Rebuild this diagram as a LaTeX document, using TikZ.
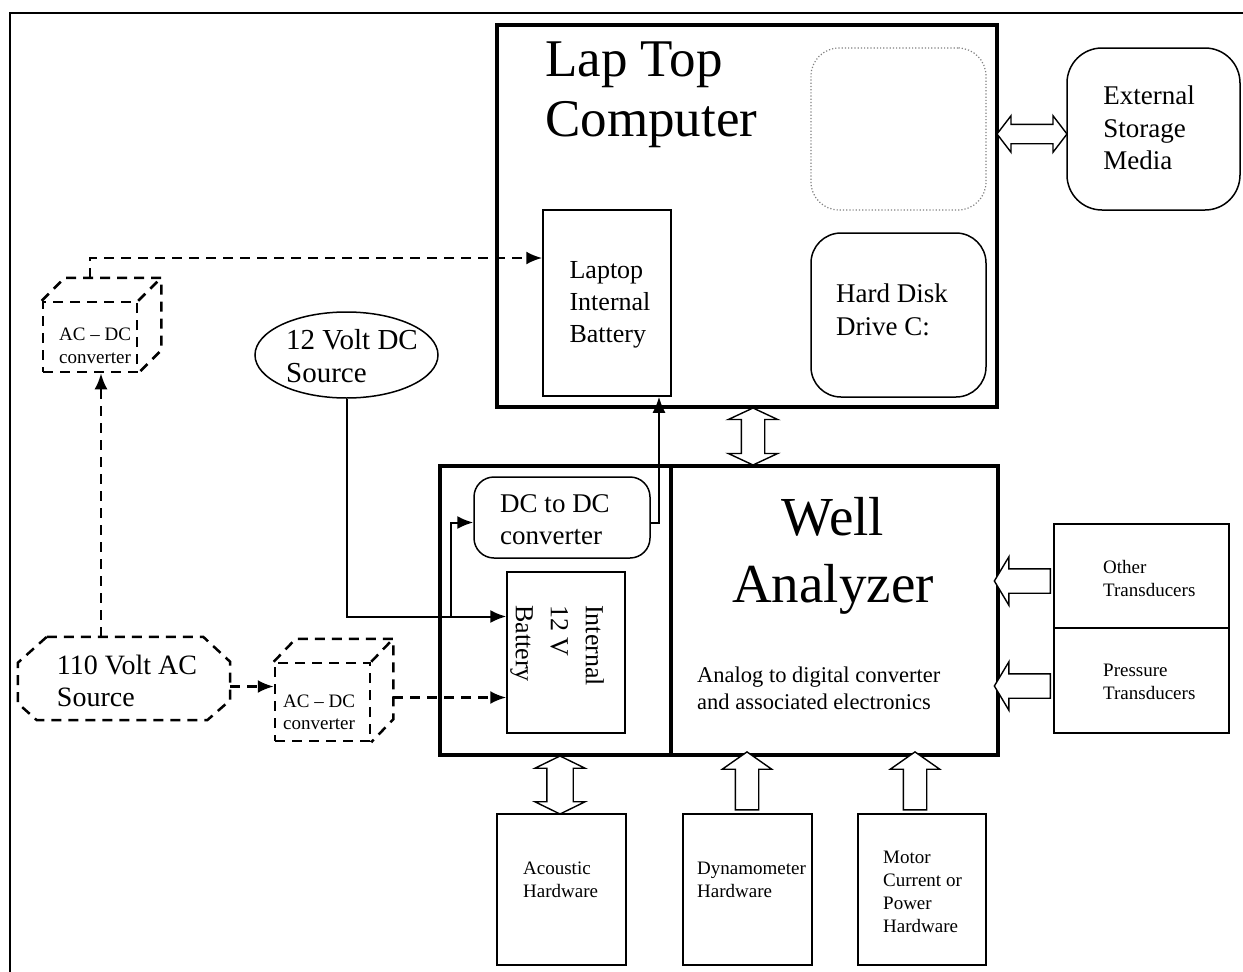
\documentclass[tikz,border=0pt]{standalone}
\usepackage{fontspec}
\setmainfont{Liberation Serif}
\usetikzlibrary{arrows.meta,calc,shapes.geometric,shapes.arrows}

\tikzset{
  bigbox/.style={draw,line width=4pt,inner sep=0pt},
  box/.style={draw,line width=1.5pt,inner sep=0pt},
  rbox/.style={box,rounded corners=#1},
  lbl/.style={inner sep=0pt,align=left},
  dashbox/.style={draw,line width=2.5pt,dash pattern=on 10pt off 7pt,inner sep=0pt},
  dashln/.style={line width=2.5pt,dash pattern=on 10pt off 7pt},
  wire/.style={line width=2pt},
  tip/.style={-{Latex[length=16pt,width=13pt]}},
  hollow/.style={draw,line width=1.4pt,fill=white,inner xsep=0pt},
}

\begin{document}
\begin{tikzpicture}[x=1pt,y=-1pt]
    \useasboundingbox (0,0) rectangle (1243,972);
    \draw[line width=2pt] (10,972) -- (10,13) -- (1243,13);

    % laptop
    \node[bigbox,minimum width=500pt,minimum height=382pt] (LT) at (747,216) {};
    \node[lbl,anchor=west,font=\fontsize{53}{60}\selectfont] (LTt) at (545,95) {Lap Top\\Computer};
    \node[draw,dotted,line width=1.2pt,gray,rounded corners=28pt,minimum width=175pt,minimum height=162pt] (DOT) at (898.5,129) {};
    \node[rbox=30pt,minimum width=175pt,minimum height=164pt] (HD) at (898.5,315) {};
    \node[lbl,font=\fontsize{27}{33}\selectfont] (HDt) at (892,310) {Hard Disk\\Drive C:};
    \node[box,minimum width=128pt,minimum height=186pt] (LB) at (607,303) {};
    \node[lbl,font=\fontsize{26}{32}\selectfont] (LBt) at (610,305) {Laptop\\Internal\\Battery};
    \node[rbox=35pt,minimum width=173pt,minimum height=162pt] (ST) at (1153.5,129) {};
    \node[lbl,font=\fontsize{27}{32.5}\selectfont] (STt) at (1149,128) {External\\Storage\\Media};

    % well analyzer
    \node[bigbox,minimum width=231pt,minimum height=289pt] (BB) at (555.5,610.5) {};
    \node[bigbox,minimum width=327pt,minimum height=289pt] (WA) at (834.5,610.5) {};
    \node[inner sep=0pt,align=center,font=\fontsize{55}{67}\selectfont] (WAt) at (833,556) {Well\\Analyzer};
    \node[lbl,anchor=west,font=\fontsize{22.5}{27}\selectfont] (ADt) at (697,688) {Analog to digital converter\\and associated electronics};
    \node[rbox=20pt,minimum width=176pt,minimum height=81pt] (DC) at (562,517.5) {};
    \node[lbl,font=\fontsize{27}{32}\selectfont] (DCt) at (555,520) {DC to DC\\converter};
    \node[box,minimum width=118pt,minimum height=161pt] (B12) at (566,652.5) {};
    \node[lbl,rotate=-90,anchor=west,font=\fontsize{26}{35}\selectfont] (B12t) at (557,605) {Internal\\12 V\\Battery};

    % transducers and hardware
    \node[box,minimum width=175pt,minimum height=104pt] (OT) at (1141.5,576) {};
    \node[box,minimum width=175pt,minimum height=105pt] (PT) at (1141.5,680.5) {};
    \node[lbl,anchor=west,font=\fontsize{19}{23}\selectfont] (OTt) at (1103,578) {Other\\Transducers};
    \node[lbl,anchor=west,font=\fontsize{19}{23}\selectfont] (PTt) at (1103,682) {Pressure\\Transducers};
    \node[box,minimum width=129pt,minimum height=151pt] (AH) at (561.5,889.5) {};
    \node[box,minimum width=129pt,minimum height=151pt] (DH) at (747.5,889.5) {};
    \node[box,minimum width=128pt,minimum height=151pt] (MH) at (922,889.5) {};
    \node[lbl,anchor=west,font=\fontsize{19}{23}\selectfont] (AHt) at (523,880) {Acoustic\\Hardware};
    \node[lbl,anchor=west,font=\fontsize{19}{23}\selectfont] (DHt) at (697,880) {Dynamometer\\Hardware};
    \node[lbl,anchor=west,font=\fontsize{19}{23}\selectfont] (MHt) at (883,892) {Motor\\Current or\\Power\\Hardware};

    % block arrows
    \node[hollow,double arrow,double arrow head extend=8.5pt,double arrow tip angle=105,inner ysep=9pt,minimum height=70pt] (a1) at (1032,134) {};
    \node[hollow,double arrow,rotate=90,double arrow head extend=13pt,double arrow tip angle=130,inner ysep=11pt,minimum height=57pt] (a2) at (753,436.5) {};
    \node[hollow,double arrow,rotate=90,double arrow head extend=12pt,double arrow tip angle=128,inner ysep=12.5pt,minimum height=58pt] (a3) at (560,785) {};
    \node[hollow,single arrow,rotate=90,single arrow head extend=13pt,single arrow tip angle=110,inner ysep=11pt,minimum height=58pt] (a4) at (747,785) {};
    \node[hollow,single arrow,rotate=90,single arrow head extend=13pt,single arrow tip angle=110,inner ysep=11pt,minimum height=58pt] (a5) at (915,785) {};
    \node[hollow,single arrow,rotate=180,single arrow head extend=12pt,single arrow tip angle=118,inner ysep=11.5pt,minimum height=56pt] (a6) at (1026,581) {};
    \node[hollow,single arrow,rotate=180,single arrow head extend=12pt,single arrow tip angle=118,inner ysep=11.5pt,minimum height=56pt] (a7) at (1026,686) {};

    % sources
    \node[draw,ellipse,line width=1.5pt,minimum width=183pt,minimum height=86pt] (S12) at (346.5,355) {};
    \node[lbl,font=\fontsize{29}{33}\selectfont] (S12t) at (352,356) {12 Volt DC\\Source};
    \node[inner sep=0pt,minimum width=212pt,minimum height=83pt] (AC) at (124,678.5) {};
    \draw[dashln] ($(AC.north west)+(29,0)$) -- ($(AC.north east)+(-27,0)$) -- ($(AC.north east)+(0,25)$)
        -- ($(AC.south east)+(0,-20)$) -- ($(AC.south east)+(-23,0)$) -- ($(AC.south west)+(19,0)$)
        -- ($(AC.south west)+(0,-17)$) -- ($(AC.north west)+(0,26)$) -- cycle;
    \node[lbl,font=\fontsize{28}{32}\selectfont] (ACt) at (127,681) {110 Volt AC\\Source};
    \node[dashbox,minimum width=94pt,minimum height=70pt] (CU) at (90,337) {};
    \node[lbl,anchor=west,font=\fontsize{19}{23}\selectfont] (CUt) at (59,346) {AC – DC\\converter};
    \draw[dashln] (CU.north west) -- ++(23,-23) -- ($(CU.north east)+(23,-23)$) -- ($(CU.south east)+(23,-23)$) -- (CU.south east);
    \draw[dashln] (CU.north east) -- ++(23,-23);
    \node[dashbox,minimum width=95pt,minimum height=78pt] (CL) at (322.5,702) {};
    \node[lbl,anchor=west,font=\fontsize{19}{22}\selectfont] (CLt) at (283,712) {AC – DC\\converter};
    \draw[dashln] (CL.north west) -- ++(22,-23) -- ($(CL.north east)+(22,-23)$) -- ($(CL.south east)+(22,-23)$) -- (CL.south east);
    \draw[dashln] (CL.north east) -- ++(22,-23);

    % power lines
    \draw[dashln,tip] ($(AC.north)+(-23,0)$) -- ($(AC.north |- CU.south)+(-23,0)$);
    \draw[dashln,tip] ($(CU.north)+(0,-23)$) |- ($(LB.west)+(0,-45)$);
    \draw[dashln,tip] ($(AC.east)+(0,8)$) -- ($(CL.west |- AC.east)+(0,8)$);
    \draw[dashln,tip] ($(CL.east |- B12.west)+(22,45)$) -- ($(B12.west)+(0,45)$);
    \coordinate (tap) at (451,616.5);
    \draw[wire,tip] (S12.south) |- ($(B12.west)+(0,-36)$);
    \draw[wire,tip] (tap) |- ($(DC.west)+(0,5)$);
    \draw[wire,tip] ($(DC.east)+(0,5)$) -| ($(LB.south)+(52,0)$);
\end{tikzpicture}
\end{document}
